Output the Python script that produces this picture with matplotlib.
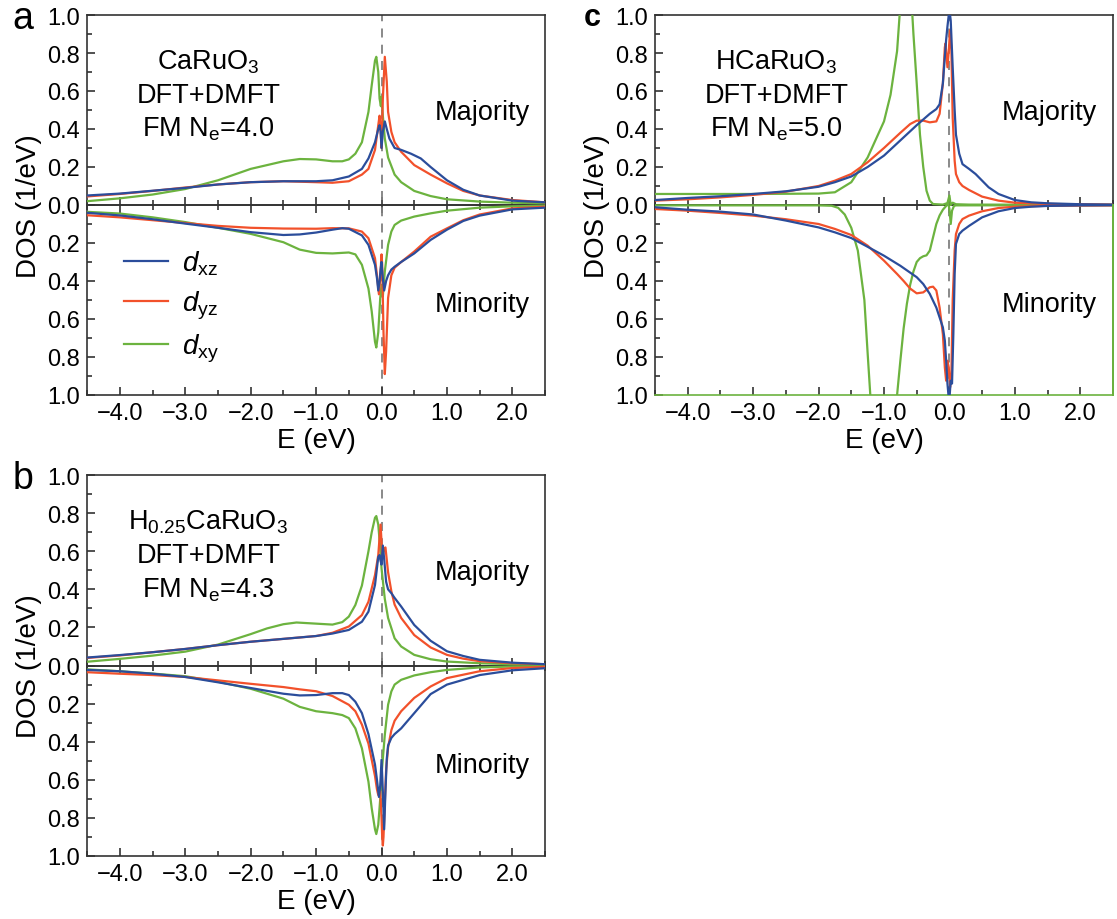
import numpy as np
import matplotlib.pyplot as plt
from matplotlib.ticker import MultipleLocator, FuncFormatter

plt.rcParams['font.family'] = ['Liberation Sans', 'DejaVu Sans']
plt.rcParams['mathtext.fontset'] = 'custom'
plt.rcParams['mathtext.rm'] = 'Liberation Sans'
plt.rcParams['mathtext.it'] = 'Liberation Sans:italic'

blue = '#2b4d9b'
red = '#f2512b'
green = '#6cb33f'

# (E in eV, DOS in 1/eV); minority stored as positive values
# --- panel a: CaRuO3
a_up_xz = [(-4.5, 0.05), (-4.0, 0.06), (-3.5, 0.075), (-3.0, 0.09), (-2.5, 0.108), (-2.0, 0.12),
           (-1.5, 0.125), (-1.0, 0.125), (-0.75, 0.13), (-0.5, 0.15), (-0.3, 0.19), (-0.2, 0.245),
           (-0.1, 0.33), (-0.05, 0.40), (-0.03, 0.42), (-0.015, 0.39), (0.0, 0.30), (0.02, 0.385),
           (0.05, 0.44), (0.08, 0.40), (0.12, 0.35), (0.2, 0.30), (0.3, 0.29), (0.45, 0.27),
           (0.6, 0.245), (0.75, 0.20), (1.0, 0.13), (1.25, 0.08), (1.5, 0.05), (2.0, 0.023), (2.5, 0.014)]
a_up_yz = [(-4.5, 0.045), (-4.0, 0.058), (-3.5, 0.074), (-3.0, 0.092), (-2.5, 0.108), (-2.0, 0.12),
           (-1.5, 0.125), (-1.0, 0.12), (-0.75, 0.117), (-0.5, 0.125), (-0.3, 0.16), (-0.2, 0.19),
           (-0.1, 0.29), (-0.05, 0.42), (-0.03, 0.47), (-0.01, 0.37), (0.0, 0.30), (0.02, 0.56),
           (0.05, 0.78), (0.08, 0.65), (0.1, 0.49), (0.15, 0.385), (0.2, 0.33), (0.3, 0.28),
           (0.5, 0.21), (0.75, 0.16), (1.0, 0.114), (1.25, 0.074), (1.5, 0.05), (2.0, 0.026), (2.5, 0.014)]
a_up_xy = [(-4.5, 0.02), (-4.0, 0.035), (-3.5, 0.055), (-3.0, 0.084), (-2.5, 0.13), (-2.0, 0.19),
           (-1.5, 0.23), (-1.25, 0.242), (-1.0, 0.24), (-0.75, 0.23), (-0.6, 0.23), (-0.5, 0.24),
           (-0.4, 0.27), (-0.3, 0.33), (-0.2, 0.49), (-0.15, 0.63), (-0.1, 0.76), (-0.08, 0.78),
           (-0.05, 0.70), (-0.03, 0.56), (-0.01, 0.52), (0.0, 0.57), (0.01, 0.51), (0.05, 0.35),
           (0.1, 0.25), (0.2, 0.16), (0.3, 0.12), (0.5, 0.074), (0.75, 0.047), (1.0, 0.03),
           (1.5, 0.018), (2.0, 0.012), (2.5, 0.009)]
a_dn_xz = [(-4.5, 0.041), (-4.0, 0.055), (-3.5, 0.075), (-3.0, 0.098), (-2.5, 0.12), (-2.0, 0.143),
           (-1.5, 0.158), (-1.25, 0.155), (-1.0, 0.145), (-0.75, 0.13), (-0.6, 0.122), (-0.5, 0.125),
           (-0.3, 0.16), (-0.2, 0.21), (-0.1, 0.315), (-0.07, 0.385), (-0.05, 0.45), (-0.03, 0.40),
           (-0.015, 0.34), (0.0, 0.30), (0.02, 0.385), (0.04, 0.45), (0.07, 0.40), (0.1, 0.37),
           (0.15, 0.34), (0.2, 0.325), (0.3, 0.30), (0.5, 0.255), (0.75, 0.184), (1.0, 0.13),
           (1.25, 0.084), (1.5, 0.056), (2.0, 0.023), (2.5, 0.014)]
a_dn_yz = [(-4.5, 0.054), (-4.0, 0.065), (-3.5, 0.08), (-3.0, 0.095), (-2.5, 0.11), (-2.0, 0.12),
           (-1.5, 0.124), (-1.0, 0.125), (-0.75, 0.122), (-0.5, 0.123), (-0.3, 0.14), (-0.2, 0.175),
           (-0.1, 0.28), (-0.07, 0.37), (-0.04, 0.47), (-0.02, 0.385), (0.0, 0.26), (0.01, 0.315),
           (0.03, 0.67), (0.05, 0.89), (0.07, 0.77), (0.1, 0.49), (0.15, 0.37), (0.2, 0.33),
           (0.3, 0.30), (0.5, 0.245), (0.75, 0.167), (1.0, 0.123), (1.25, 0.08), (1.5, 0.05),
           (2.0, 0.018), (2.5, 0.009)]
a_dn_xy = [(-4.5, 0.036), (-4.0, 0.045), (-3.5, 0.065), (-3.0, 0.09), (-2.5, 0.12), (-2.0, 0.152),
           (-1.5, 0.196), (-1.25, 0.235), (-1.0, 0.252), (-0.75, 0.255), (-0.5, 0.25), (-0.4, 0.26),
           (-0.3, 0.315), (-0.2, 0.44), (-0.15, 0.56), (-0.1, 0.72), (-0.08, 0.75), (-0.05, 0.67),
           (-0.02, 0.49), (0.0, 0.42), (0.02, 0.48), (0.05, 0.35), (0.1, 0.21), (0.15, 0.14),
           (0.2, 0.105), (0.3, 0.082), (0.5, 0.061), (0.75, 0.044), (1.0, 0.03), (1.5, 0.014),
           (2.0, 0.007), (2.5, 0.004)]

# --- panel b: H0.25CaRuO3
b_up_xz = [(-4.5, 0.042), (-4.0, 0.055), (-3.5, 0.07), (-3.0, 0.087), (-2.5, 0.107), (-2.0, 0.125),
           (-1.5, 0.14), (-1.0, 0.155), (-0.75, 0.168), (-0.5, 0.187), (-0.3, 0.23), (-0.2, 0.283),
           (-0.1, 0.423), (-0.05, 0.57), (-0.03, 0.58), (-0.015, 0.55), (0.0, 0.53), (0.02, 0.63),
           (0.04, 0.56), (0.07, 0.44), (0.1, 0.40), (0.15, 0.38), (0.2, 0.355), (0.3, 0.31),
           (0.5, 0.213), (0.75, 0.13), (1.0, 0.075), (1.25, 0.05), (1.5, 0.03), (2.0, 0.015), (2.5, 0.007)]
b_up_yz = [(-4.5, 0.04), (-4.0, 0.053), (-3.5, 0.07), (-3.0, 0.087), (-2.5, 0.107), (-2.0, 0.125),
           (-1.5, 0.14), (-1.0, 0.155), (-0.75, 0.172), (-0.5, 0.205), (-0.3, 0.265), (-0.2, 0.335),
           (-0.1, 0.475), (-0.05, 0.58), (-0.015, 0.74), (0.0, 0.65), (0.01, 0.56), (0.04, 0.615),
           (0.06, 0.62), (0.1, 0.49), (0.15, 0.39), (0.2, 0.32), (0.3, 0.25), (0.5, 0.16),
           (0.75, 0.095), (1.0, 0.056), (1.25, 0.036), (1.5, 0.023), (2.0, 0.012), (2.5, 0.007)]
b_up_xy = [(-4.5, 0.02), (-4.0, 0.035), (-3.5, 0.052), (-3.0, 0.073), (-2.5, 0.11), (-2.0, 0.165),
           (-1.75, 0.195), (-1.5, 0.217), (-1.3, 0.226), (-1.0, 0.22), (-0.75, 0.215), (-0.6, 0.228),
           (-0.5, 0.257), (-0.4, 0.318), (-0.3, 0.42), (-0.2, 0.60), (-0.15, 0.70), (-0.1, 0.776),
           (-0.08, 0.785), (-0.05, 0.74), (-0.02, 0.615), (0.0, 0.51), (0.05, 0.35), (0.1, 0.25),
           (0.2, 0.143), (0.3, 0.10), (0.5, 0.056), (0.75, 0.033), (1.0, 0.021), (1.5, 0.012),
           (2.0, 0.007), (2.5, 0.004)]
b_dn_xz = [(-4.5, 0.023), (-4.0, 0.03), (-3.5, 0.043), (-3.0, 0.06), (-2.5, 0.088), (-2.0, 0.118),
           (-1.5, 0.148), (-1.25, 0.157), (-1.0, 0.155), (-0.75, 0.145), (-0.6, 0.145), (-0.5, 0.155),
           (-0.4, 0.19), (-0.3, 0.25), (-0.2, 0.36), (-0.1, 0.52), (-0.07, 0.60), (-0.04, 0.69),
           (-0.02, 0.63), (0.0, 0.495), (0.02, 0.66), (0.04, 0.86), (0.06, 0.66), (0.08, 0.49),
           (0.1, 0.42), (0.15, 0.38), (0.2, 0.36), (0.3, 0.33), (0.5, 0.25), (0.75, 0.15),
           (1.0, 0.10), (1.5, 0.05), (2.0, 0.025), (2.5, 0.014)]
b_dn_yz = [(-4.5, 0.035), (-4.0, 0.043), (-3.5, 0.05), (-3.0, 0.06), (-2.5, 0.078), (-2.0, 0.096),
           (-1.5, 0.113), (-1.25, 0.125), (-1.0, 0.135), (-0.75, 0.16), (-0.5, 0.206), (-0.4, 0.24),
           (-0.3, 0.31), (-0.2, 0.41), (-0.1, 0.58), (-0.07, 0.65), (-0.05, 0.68), (-0.02, 0.66),
           (0.0, 0.80), (0.01, 0.90), (0.02, 0.945), (0.03, 0.90), (0.05, 0.72), (0.07, 0.55),
           (0.1, 0.43), (0.15, 0.34), (0.2, 0.29), (0.3, 0.24), (0.5, 0.17), (0.75, 0.11),
           (1.0, 0.066), (1.5, 0.03), (2.0, 0.013), (2.5, 0.007)]
b_dn_xy = [(-4.5, 0.02), (-4.0, 0.03), (-3.5, 0.042), (-3.0, 0.056), (-2.5, 0.085), (-2.0, 0.122),
           (-1.5, 0.174), (-1.25, 0.217), (-1.0, 0.24), (-0.75, 0.25), (-0.6, 0.26), (-0.5, 0.276),
           (-0.4, 0.33), (-0.3, 0.435), (-0.2, 0.61), (-0.15, 0.75), (-0.1, 0.86), (-0.08, 0.885),
           (-0.05, 0.836), (-0.02, 0.70), (0.0, 0.573), (0.05, 0.364), (0.1, 0.206), (0.15, 0.136),
           (0.2, 0.10), (0.3, 0.075), (0.5, 0.052), (0.75, 0.035), (1.0, 0.023), (1.5, 0.01),
           (2.0, 0.005), (2.5, 0.003)]

# --- panel c: HCaRuO3
c_up_xz = [(-4.5, 0.026), (-4.0, 0.037), (-3.5, 0.046), (-3.0, 0.058), (-2.5, 0.072), (-2.0, 0.096),
           (-1.75, 0.12), (-1.5, 0.15), (-1.25, 0.2), (-1.0, 0.26), (-0.75, 0.34), (-0.5, 0.42),
           (-0.4, 0.45), (-0.3, 0.48), (-0.2, 0.505), (-0.15, 0.53), (-0.1, 0.64), (-0.07, 0.78),
           (-0.05, 0.87), (-0.03, 0.94), (0.0, 1.03), (0.02, 0.97), (0.05, 0.725), (0.08, 0.50),
           (0.1, 0.37), (0.15, 0.27), (0.2, 0.215), (0.3, 0.19), (0.4, 0.163), (0.5, 0.128),
           (0.6, 0.093), (0.75, 0.058), (1.0, 0.026), (1.25, 0.014), (1.5, 0.009), (2.0, 0.004), (2.5, 0.002)]
c_up_yz = [(-4.5, 0.023), (-4.0, 0.03), (-3.5, 0.04), (-3.0, 0.053), (-2.5, 0.07), (-2.0, 0.10),
           (-1.75, 0.128), (-1.5, 0.163), (-1.25, 0.225), (-1.0, 0.30), (-0.75, 0.38), (-0.6, 0.426),
           (-0.5, 0.444), (-0.4, 0.444), (-0.3, 0.435), (-0.2, 0.44), (-0.15, 0.48), (-0.1, 0.64),
           (-0.07, 0.83), (-0.06, 0.85), (-0.03, 0.725), (-0.01, 0.81), (0.01, 0.92), (0.03, 0.81),
           (0.05, 0.46), (0.08, 0.233), (0.1, 0.163), (0.15, 0.12), (0.2, 0.10), (0.3, 0.079),
           (0.5, 0.044), (0.75, 0.023), (1.0, 0.012), (1.5, 0.005), (2.0, 0.004), (2.5, 0.002)]
c_up_xy = [(-4.5, 0.058), (-3.0, 0.058), (-2.0, 0.06), (-1.75, 0.067), (-1.5, 0.12), (-1.25, 0.25),
           (-1.0, 0.44), (-0.9, 0.58), (-0.8, 0.81), (-0.7, 1.3), (-0.65, 1.4), (-0.6, 1.2),
           (-0.55, 0.9), (-0.5, 0.64), (-0.45, 0.37), (-0.4, 0.2), (-0.35, 0.075), (-0.3, 0.023),
           (-0.25, 0.005), (-0.1, 0.002), (-0.03, 0.01), (0.0, 0.05), (0.02, 0.0), (0.05, 0.012),
           (0.1, 0.004), (0.3, 0.002), (2.5, 0.001)]
c_dn_xz = [(-4.5, 0.012), (-4.0, 0.025), (-3.5, 0.035), (-3.0, 0.05), (-2.5, 0.082), (-2.0, 0.118),
           (-1.75, 0.144), (-1.5, 0.174), (-1.25, 0.22), (-1.0, 0.267), (-0.75, 0.32), (-0.5, 0.38),
           (-0.4, 0.416), (-0.3, 0.468), (-0.2, 0.54), (-0.1, 0.644), (-0.07, 0.714), (-0.05, 0.82),
           (-0.03, 0.94), (-0.01, 1.02), (0.0, 1.02), (0.02, 0.925), (0.04, 0.94), (0.06, 0.68),
           (0.08, 0.363), (0.1, 0.205), (0.15, 0.153), (0.2, 0.135), (0.3, 0.11), (0.5, 0.065),
           (0.75, 0.033), (1.0, 0.016), (1.25, 0.009), (1.5, 0.005), (2.0, 0.002), (2.5, 0.001)]
c_dn_yz = [(-4.5, 0.021), (-4.0, 0.03), (-3.5, 0.042), (-3.0, 0.056), (-2.5, 0.075), (-2.0, 0.10),
           (-1.75, 0.126), (-1.5, 0.158), (-1.25, 0.214), (-1.0, 0.293), (-0.8, 0.363), (-0.7, 0.40),
           (-0.6, 0.44), (-0.5, 0.465), (-0.4, 0.46), (-0.3, 0.433), (-0.25, 0.43), (-0.2, 0.45),
           (-0.15, 0.54), (-0.1, 0.68), (-0.07, 0.855), (-0.05, 0.925), (-0.03, 0.82), (-0.01, 0.855),
           (0.01, 0.96), (0.03, 0.89), (0.05, 0.50), (0.08, 0.24), (0.1, 0.153), (0.15, 0.10),
           (0.2, 0.074), (0.3, 0.056), (0.5, 0.033), (0.75, 0.016), (1.0, 0.009), (1.5, 0.004), (2.5, 0.002)]
c_dn_xy = [(-4.5, 0.002), (-2.0, 0.002), (-1.8, 0.004), (-1.7, 0.015), (-1.6, 0.05), (-1.5, 0.12),
           (-1.4, 0.24), (-1.3, 0.5), (-1.25, 0.78), (-1.2, 1.05), (-1.1, 1.6), (-1.0, 1.9),
           (-0.9, 1.5), (-0.8, 1.0), (-0.75, 0.82), (-0.7, 0.65), (-0.65, 0.52), (-0.6, 0.42),
           (-0.55, 0.35), (-0.5, 0.30), (-0.45, 0.28), (-0.4, 0.27), (-0.35, 0.265), (-0.3, 0.24),
           (-0.25, 0.17), (-0.2, 0.10), (-0.15, 0.055), (-0.1, 0.025), (-0.05, 0.005), (-0.02, -0.01),
           (0.0, 0.02), (0.02, 0.10), (0.04, 0.03), (0.07, 0.005), (0.1, 0.002), (2.5, 0.001)]

orbitals = [r'$d_{\rm xz}$', r'$d_{\rm yz}$', r'$d_{\rm xy}$']
colors = [blue, red, green]

fig = plt.figure(figsize=(11.17, 9.2), dpi=100)


def fmt_e(v, pos):
    v = round(v, 6) + 0.0
    return f'{v:.1f}'.replace('-', '\u2212')


def fmt_dos(v, pos):
    return f'{abs(v):.1f}'


def panel(rect, up, dn, label, legend=False):
    ax = fig.add_axes(rect)
    ax.axvline(0, color='#808080', lw=1.3, ls=(0, (5, 4)), zorder=1)
    # draw xy first, then yz, then xz on top
    for k in [2, 1, 0]:
        e, d = np.array(up[k]).T
        ax.plot(e, d, color=colors[k], lw=1.6, label=orbitals[k], zorder=3)
        e, d = np.array(dn[k]).T
        ax.plot(e, -d, color=colors[k], lw=1.6, zorder=3)
    ax.set_xlim(-4.5, 2.5)
    ax.set_ylim(-1, 1)
    ax.xaxis.set_major_locator(MultipleLocator(1))
    ax.xaxis.set_minor_locator(MultipleLocator(0.5))
    ax.yaxis.set_major_locator(MultipleLocator(0.2))
    ax.yaxis.set_minor_locator(MultipleLocator(0.1))
    ax.xaxis.set_major_formatter(FuncFormatter(fmt_e))
    ax.yaxis.set_major_formatter(FuncFormatter(fmt_dos))
    ax.tick_params(which='both', direction='in', top=False, right=False,
                   labelsize=17, width=1.2, color='#333333')
    ax.tick_params(which='major', length=6, pad=5)
    ax.tick_params(which='minor', length=3.5)
    for s in ax.spines.values():
        s.set_linewidth(1.2)
        s.set_color('#333333')

    # zero line with ticks crossing it
    mid = ax.secondary_xaxis(0.5)
    mid.xaxis.set_major_locator(MultipleLocator(1))
    mid.xaxis.set_minor_locator(MultipleLocator(0.5))
    mid.tick_params(which='both', direction='inout', labelbottom=False, labeltop=False,
                    width=1.2, color='#333333')
    mid.tick_params(which='major', length=11)
    mid.tick_params(which='minor', length=7)
    for s in mid.spines.values():
        s.set_linewidth(1.4)
        s.set_color('#333333')

    ax.set_xlabel('E (eV)', fontsize=20, labelpad=2)
    ax.set_ylabel('DOS (1/eV)', fontsize=20, labelpad=4)
    ax.text(0.265, 0.79, label, transform=ax.transAxes, ha='center', va='center',
            fontsize=19.5, linespacing=1.35)
    ax.text(0.862, 0.745, 'Majority', transform=ax.transAxes, ha='center', va='center', fontsize=19.5)
    ax.text(0.862, 0.24, 'Minority', transform=ax.transAxes, ha='center', va='center', fontsize=19.5)
    if legend:
        h, l = ax.get_legend_handles_labels()
        ax.legend(h[::-1], l[::-1], loc='upper left', bbox_to_anchor=(0.025, 0.45),
                  frameon=False, fontsize=20, handlelength=1.6, handletextpad=0.5,
                  labelspacing=0.4)
    return ax


ax_a = panel([0.078, 0.5696, 0.41, 0.413], [a_up_xz, a_up_yz, a_up_xy], [a_dn_xz, a_dn_yz, a_dn_xy],
             'CaRuO$_3$\nDFT+DMFT\nFM N$_{\\rm e}$=4.0', legend=True)
ax_b = panel([0.078, 0.0685, 0.41, 0.414], [b_up_xz, b_up_yz, b_up_xy], [b_dn_xz, b_dn_yz, b_dn_xy],
             'H$_{0.25}$CaRuO$_3$\nDFT+DMFT\nFM N$_{\\rm e}$=4.3')
ax_c = panel([0.5864, 0.5696, 0.41, 0.413], [c_up_xz, c_up_yz, c_up_xy], [c_dn_xz, c_dn_yz, c_dn_xy],
             'HCaRuO$_3$\nDFT+DMFT\nFM N$_{\\rm e}$=5.0')
# in c the lower frame edges are overdrawn by the flat green minority curve
ax_c.spines['bottom'].set_color(green)
ax_c.plot([1, 1], [0, 0.5], transform=ax_c.transAxes, color=green, lw=1.4, clip_on=False, zorder=4)

fig.text(0.011, 0.968, 'a', fontsize=27, va='baseline')
fig.text(0.011, 0.468, 'b', fontsize=27, va='baseline')
fig.text(0.523, 0.972, 'c', fontsize=22, fontweight='bold', va='baseline')

fig.savefig('out.png', dpi=100)
